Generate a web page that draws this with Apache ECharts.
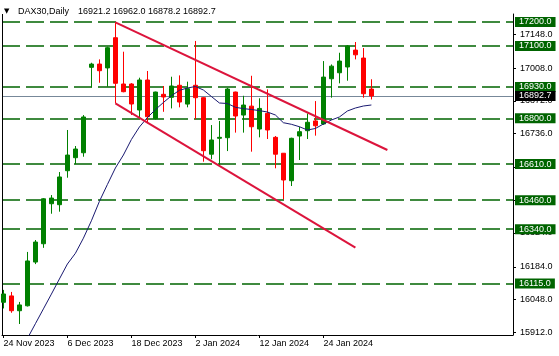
<!DOCTYPE html>
<html>
<head>
<meta charset="utf-8">
<script src="https://cdn.jsdelivr.net/npm/echarts@6/dist/echarts.min.js"></script>
<style>
html,body{margin:0;padding:0;background:#fff;}
#chart{width:559px;height:356px;}
</style>
</head>
<body>
<div id="chart"></div>
<script>
var symbolName = 'DAX30,Daily';
var dates = ['24 Nov 2023','27 Nov 2023','28 Nov 2023','29 Nov 2023','30 Nov 2023','1 Dec 2023','4 Dec 2023','5 Dec 2023',
  '6 Dec 2023','7 Dec 2023','8 Dec 2023','11 Dec 2023','12 Dec 2023','13 Dec 2023','14 Dec 2023','15 Dec 2023',
  '18 Dec 2023','19 Dec 2023','20 Dec 2023','21 Dec 2023','22 Dec 2023','27 Dec 2023','28 Dec 2023','29 Dec 2023',
  '2 Jan 2024','3 Jan 2024','4 Jan 2024','5 Jan 2024','8 Jan 2024','9 Jan 2024','10 Jan 2024','11 Jan 2024',
  '12 Jan 2024','15 Jan 2024','16 Jan 2024','17 Jan 2024','18 Jan 2024','19 Jan 2024','22 Jan 2024','23 Jan 2024',
  '24 Jan 2024','25 Jan 2024','26 Jan 2024','29 Jan 2024','30 Jan 2024','31 Jan 2024','1 Feb 2024'];
var openV = [16036.5,16063,16001.5,16022,16203.5,16279.5,16445.5,16441.5,16582.5,16636.5,16657,17011.5,17025,17009,17134.4,16942.3,
  16942.3,16834.4,16958.9,16798.5,16899.5,16887,16937,16859,16937,16885.5,16651,16717,16719.5,16909,16813.5,16850.5,
  16755.5,16820.5,16721,16655,16541,16726.5,16748.5,16789,16776.5,16964,16989,17013,17083,17050,16921.2];
var closeV = [16071,16001.5,16025.5,16208,16286.5,16466,16469,16556.5,16647.5,16672.5,16805.5,17025,16997.5,17092.9,16945.2,16910.4,
  16859.3,16958.9,16806.6,16909,16888.5,16934,16867.5,16923,16885.5,16665.5,16710,16721,16921.5,16809.5,16855,16765,
  16841,16751.5,16651,16544,16717,16744.5,16783.5,16769,16971,17016.5,17037.5,17100,17063.5,16902,16892.7];
var highV = [16088,16079.5,16038,16245.5,16295,16469,16481.5,16577,16751.5,16685,16813.5,17030.5,17044.5,17097,17198.3,17076.3,
  16946,16968.5,16996.3,16910.5,16934,16972.5,16978,16952,17121,16887.5,16772,16789,16926,16910.5,16893.5,16976.5,
  16883,16920,16726.5,16656,16719.5,16765,16820.5,16871.5,17037.5,17023.5,17072,17104,17116.5,17091.5,16962];
var lowV = [16011,15993,15946.5,16019,16195,16262.5,16404,16412.5,16553.5,16610,16640.5,16928.5,16947.5,16931,16862.2,16908,
  16813.7,16800,16779.2,16795,16827,16841,16845.5,16845.5,16796,16620,16630,16606,16664,16740.5,16740.5,16661.5,
  16721,16714,16592.5,16464,16519,16627,16714,16728,16773,16885.5,16945,16956,17044.5,16885.5,16878.2];
var maV = [15701.6,15763.9,15826.1,15886.3,15947.7,16009.1,16070.5,16133.2,16195.4,16239.8,16302.5,16374.7,16455.2,16525.3,16593.8,16647.7,
  16712,16763.9,16802.9,16836.1,16865.6,16893.4,16916.2,16925.7,16931.9,16917.4,16890.4,16863.5,16861.4,16845.6,16840.2,16836.5,
  16831.9,16826.1,16813.7,16781.7,16775.1,16765.1,16751.4,16757.7,16776.3,16792.9,16805.4,16830.3,16842.7,16851,16855.2];
var levels = [17200,17100,16930,16800,16610,16460,16340,16115];
var yTicks = [15912,16048,16184,16324,16460,16598,16736,16872,17008,17148];
var xTickIdx = [0,8,16,24,32,40];
var upperChannel = [[14,17198.3],[48,16668.5]];
var lowerChannel = [[14,16862.2],[44,16263]];

var FONT = 'Liberation Sans';
var X_MIN = -0.175, X_MAX = 63.7, Y_MIN = 15900.8, Y_MAX = 17232.8;
var n = dates.length;
var last = n - 1;
var candles = [];
for (var i = 0; i < n; i++) candles.push([i, openV[i], closeV[i], lowV[i], highV[i]]);
var maData = maV.map(function (v, i) { return [i, v]; });

var levelLines = levels.map(function (v) {
  return {
    yAxis: v,
    lineStyle: { color: '#006400', type: [18, 6], width: 1.5 },
    label: { show: true, backgroundColor: '#006400', color: '#ffffff' }
  };
});
levelLines.push({
  yAxis: closeV[last],
  lineStyle: { color: '#778899', type: 'solid', width: 1 },
  label: { show: true, backgroundColor: '#000000', color: '#ffffff' }
});
levelLines.push({
  xAxis: X_MIN,
  lineStyle: { color: '#000000', type: 'solid', width: 1 },
  label: { show: false }
});

var chart = echarts.init(document.getElementById('chart'), null, { renderer: 'canvas' });
var txt = { color: '#000', fontSize: 9, fontFamily: FONT, fontWeight: 'normal' };
chart.setOption({
  animation: false,
  backgroundColor: '#ffffff',
  title: [
    { text: '\u25BC', left: 4, top: 8, padding: 0, textStyle: { color: '#000', fontSize: 7, fontFamily: 'DejaVu Sans', fontWeight: 'normal' } },
    { text: symbolName, left: 18, top: 7, padding: 0, textStyle: txt },
    { text: [openV[last], highV[last], lowV[last], closeV[last]].map(function (v) { return v.toFixed(1); }).join(' '),
      left: 78, top: 7, padding: 0, textStyle: txt }
  ],
  grid: { left: 2, right: 46, top: 14, bottom: 21 },
  xAxis: {
    type: 'value', min: X_MIN, max: X_MAX,
    splitLine: { show: false },
    axisLine: { show: true, onZero: false, lineStyle: { color: '#000', width: 1 } },
    axisTick: { show: true, customValues: xTickIdx, length: 3, lineStyle: { color: '#000' } },
    axisLabel: { customValues: xTickIdx, formatter: function (v) { return dates[Math.round(v)] || ''; },
      align: 'left', margin: 4, color: '#000', fontSize: 9, fontFamily: FONT }
  },
  yAxis: {
    type: 'value', position: 'right', min: Y_MIN, max: Y_MAX,
    splitLine: { show: false },
    axisLine: { show: true, onZero: false, lineStyle: { color: '#000', width: 1 } },
    axisTick: { show: true, customValues: yTicks, length: 3, lineStyle: { color: '#000' } },
    axisLabel: { customValues: yTicks, formatter: function (v) { return v.toFixed(1); },
      margin: 7, color: '#000', fontSize: 9, fontFamily: FONT }
  },
  series: [
    {
      type: 'line', data: [], z: 1, silent: true,
      markLine: {
        silent: true, symbol: 'none', z: 1, animation: false,
        label: { show: true, position: 'end', distance: 2, fontSize: 9, fontFamily: FONT,
          padding: [1, 4, 0, 4], lineHeight: 9,
          formatter: function (p) { return Number(p.value).toFixed(1); } },
        data: levelLines
      }
    },
    {
      type: 'candlestick', data: candles, z: 3,
      encode: { x: 0, y: [1, 2, 3, 4] },
      barWidth: 4,
      itemStyle: { color: '#008000', color0: '#ff0000', borderColor: '#008000', borderColor0: '#ff0000', borderWidth: 1 }
    },
    {
      type: 'line', data: maData, z: 4, showSymbol: false, symbol: 'none',
      lineStyle: { color: '#191970', width: 1 }
    },
    {
      type: 'line', data: upperChannel, z: 5, showSymbol: false, symbol: 'none',
      lineStyle: { color: '#dc143c', width: 2 }
    },
    {
      type: 'line', data: lowerChannel, z: 5, showSymbol: false, symbol: 'none',
      lineStyle: { color: '#dc143c', width: 2 }
    }
  ]
});
</script>
</body>
</html>
